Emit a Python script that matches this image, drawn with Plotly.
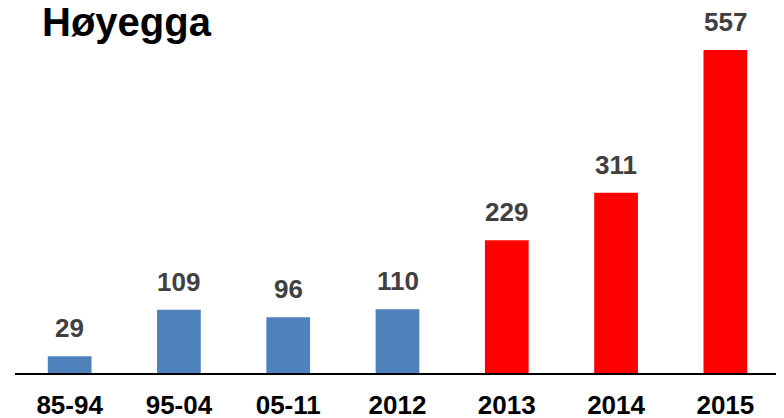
import plotly.graph_objects as go

categories = ["85-94", "95-04", "05-11", "2012", "2013", "2014", "2015"]
values = [29, 109, 96, 110, 229, 311, 557]
bar_colors = ["#4F81BD", "#4F81BD", "#4F81BD", "#4F81BD", "#FF0000", "#FF0000", "#FF0000"]
title_text = "Høyegga"

FONT = "Arial, Liberation Sans, sans-serif"

fig = go.Figure()
fig.add_trace(go.Bar(
    x=categories,
    y=values,
    marker=dict(color=bar_colors, line=dict(width=0)),
    hoverinfo="skip",
))

for i, v in enumerate(values):
    fig.add_annotation(
        x=i, y=v, xref="x", yref="y",
        text=f"<b>{v}</b>",
        showarrow=False,
        yanchor="bottom",
        yshift=11,
        font=dict(family=FONT, size=26, color="#404040"),
    )

fig.update_layout(
    width=784, height=418,
    margin=dict(l=7, r=12, t=0, b=53, autoexpand=False),
    paper_bgcolor="white",
    plot_bgcolor="white",
    bargap=0.6,
    showlegend=False,
    title=dict(
        text=f"<b>{title_text}</b>",
        font=dict(family=FONT, size=40, color="black"),
        x=34 / 784, xanchor="left", xref="container",
        y=1.0, yanchor="top", yref="container",
        pad=dict(t=0, l=0),
        automargin=False,
    ),
)
fig.update_xaxes(
    type="category",
    categoryorder="array", categoryarray=categories,
    range=[-0.5, len(categories) - 0.5],
    automargin=False,
    showline=True, linecolor="black", linewidth=2,
    showgrid=False, zeroline=False,
    ticks="", ticklabelstandoff=8,
    tickfont=dict(family=FONT, size=26, color="black"),
    tickprefix="<b>", ticksuffix="</b>",
)
fig.update_yaxes(
    range=[0, 629.4], visible=False, showgrid=False, zeroline=False,
    automargin=False,
)

fig.write_html("out.html")
